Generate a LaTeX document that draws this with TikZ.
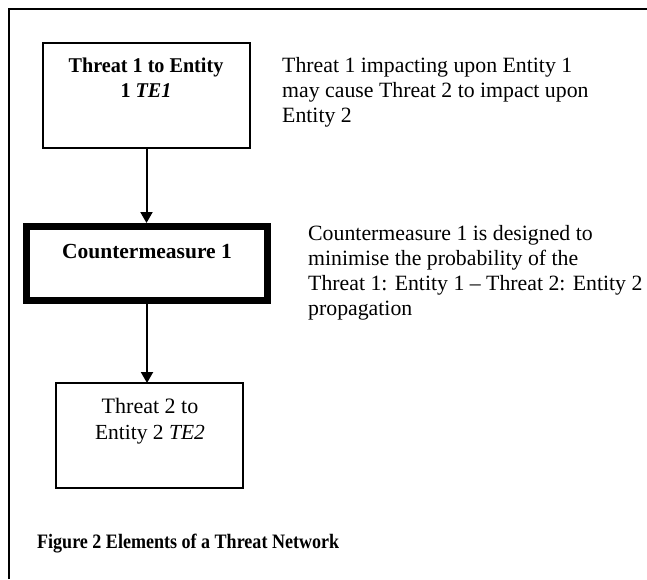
\documentclass[tikz,border=0pt]{standalone}
\usepackage{fontspec}
\setmainfont{Liberation Serif}
\usetikzlibrary{arrows.meta}
\begin{document}
\begin{tikzpicture}[x=1pt,y=-1pt,
  box/.style={draw,line width=1.8pt,rectangle,inner sep=0pt,outer sep=0pt},
  cmbox/.style={draw,line width=7pt,rectangle,inner sep=0pt},
  lbl/.style={font=\fontsize{21.5}{25}\selectfont,inner sep=0pt,anchor=base},
  blbl/.style={lbl,font=\fontsize{21.5}{25}\selectfont\bfseries},
  side/.style={font=\fontsize{21.8}{25}\selectfont,inner sep=0pt,anchor=base west},
  arr/.style={line width=2pt,-{Triangle[width=12pt,length=11pt]}}]
\useasboundingbox (0,0) rectangle (647,579);
% outer frame: top and left edges only
\draw[line width=1.5pt] (9,579) -- (9,9) -- (647,9);
% boxes
\node[box,minimum width=207pt,minimum height=105pt] (te1) at (146.5,95.5) {};
\node[cmbox,minimum width=241pt,minimum height=74pt] (cm) at (147,263.5) {};
\node[box,minimum width=187pt,minimum height=105pt] (te2) at (149.5,435.5) {};
% box texts
\node[blbl,font=\fontsize{21}{25}\selectfont\bfseries,xscale=0.96] (te1a) at (146,72) {Threat 1 to Entity};
\node[blbl,font=\fontsize{21}{25}\selectfont\bfseries,xscale=0.96] (te1b) at (146,97) {1 \textit{TE1}};
\node[blbl] (cmt) at (147,258) {Countermeasure 1};
\node[lbl,font=\fontsize{22}{25}\selectfont] (te2a) at (150,413) {Threat 2 to};
\node[lbl] (te2b) at (150,439) {Entity 2 \textit{TE2}};
% connectors
\draw[arr] (te1.south) -- (te1.south |- cm.north);
\draw[arr] (cm.south) -- (cm.south |- te2.north);
% side note on the threat pair
\node[side] (n1a) at (282,72) {Threat 1 impacting upon Entity 1};
\node[side] (n1b) at (282,97) {may cause Threat 2 to impact upon};
\node[side] (n1c) at (282,122) {Entity 2};
% side note on the countermeasure
\node[side] (n2a) at (308,240) {Countermeasure 1 is designed to};
\node[side] (n2b) at (308,265) {minimise the probability of the};
\node[side] (n2c) at (308,290) {Threat 1: Entity 1 -- Threat 2: Entity 2};
\node[side] (n2d) at (308,315) {propagation};
% caption
\node[side,font=\fontsize{20.5}{25}\selectfont\bfseries,xscale=0.88] (cap) at (37,548) {Figure 2 Elements of a Threat Network};
\end{tikzpicture}
\end{document}
